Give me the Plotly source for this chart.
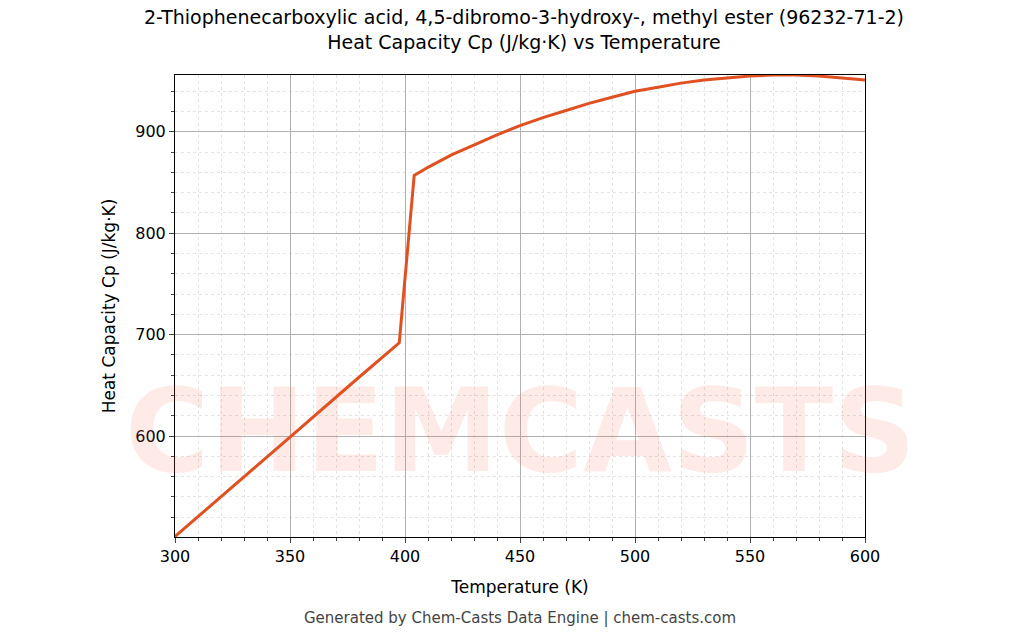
import plotly.graph_objects as go

temperature = [300, 320, 350, 380, 397.5, 404, 410, 420, 430, 440, 450, 460, 470, 480, 490, 500,
               510, 520, 530, 540, 550, 560, 570, 580, 590, 600]
cp = [501, 540, 599, 658, 692, 857, 865, 877, 887, 897, 906, 914, 921, 928, 934, 940,
      944, 948, 951, 953, 955, 956, 956, 955, 953, 951]

fig = go.Figure()
fig.add_trace(go.Scatter(x=temperature, y=cp, mode="lines", line=dict(color="#e05020", width=3)))

# faint watermark
fig.add_annotation(text="<b>CHEMCASTS</b>", x=0.5, y=0.08, xref="paper", yref="paper", showarrow=False,
                   font=dict(size=115, color="rgba(250,90,60,0.13)", family="DejaVu Sans"))

axis = dict(showline=True, linecolor="black", mirror=True, ticks="outside", gridcolor="#b0b0b0", gridwidth=0.8,
            zeroline=False, tickfont=dict(size=16, color="black"),
            minor=dict(ticks="outside", showgrid=True, gridcolor="#e4e4e4", griddash="dot", ticklen=3))
fig.update_xaxes(axis, range=[300, 600], dtick=50, title=dict(text="Temperature (K)", font=dict(size=17)))
fig.update_yaxes(axis, range=[500.5, 956], tickvals=[600, 700, 800, 900],
                 title=dict(text="Heat Capacity Cp (J/kg·K)", font=dict(size=17)))

fig.update_layout(
    width=1032, height=644, plot_bgcolor="white", paper_bgcolor="white", showlegend=False,
    font=dict(family="DejaVu Sans", color="black"),
    title=dict(text="2-Thiophenecarboxylic acid, 4,5-dibromo-3-hydroxy-, methyl ester (96232-71-2)<br>Heat Capacity Cp (J/kg·K) vs Temperature",
               x=0.5, y=0.975, font=dict(size=19)),
    margin=dict(l=167, r=175, t=67, b=115),
)
fig.add_annotation(text="Generated by Chem-Casts Data Engine | chem-casts.com", x=0.5, y=-0.2, xref="paper", yref="paper",
                   showarrow=False, font=dict(size=15, color="#444"))
fig.write_html("out.html")
